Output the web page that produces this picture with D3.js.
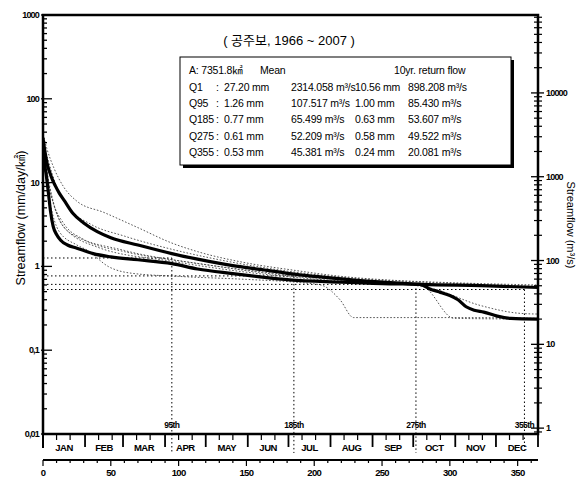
<!DOCTYPE html>
<html>
<head>
<meta charset="utf-8">
<script src="https://cdn.jsdelivr.net/npm/d3@7"></script>
<style>
  body { margin: 0; background: #fff; }
  svg { display: block; font-family: "Liberation Sans", Arial, "Noto Sans CJK KR", sans-serif; }
</style>
</head>
<body>
<div id="chart"></div>
<script>
// basin area (km2) -> converts mm/day to m3/s
const area = 7351.8;

// month axis
const months = ["JAN", "FEB", "MAR", "APR", "MAY", "JUN", "JUL", "AUG", "SEP", "OCT", "NOV", "DEC"];
const monthStart = [0, 31, 59, 90, 120, 151, 181, 212, 243, 273, 304, 334, 365];

// left axis ticks
const yTickValues = [0.01, 0.1, 1, 10, 100, 1000];
const yTickLabels = ["0,01", "0,1", "1", "10", "100", "1000"];
const rTickValues = [1, 10, 100, 1000, 10000];

// duration points (day, mean flow mm)
const durDays = [95, 185, 275, 355];
const durLabels = ["95th", "185th", "275th", "355th"];
const durMean = [1.26, 0.77, 0.61, 0.53];

// legend table
const legendQ = ["Q1", "Q95", "Q185", "Q275", "Q355"];
const meanMm = ["27.20", "1.26", "0.77", "0.61", "0.53"];
const meanCms = ["2314.058", "107.517", "65.499", "52.209", "45.381"];
const retMm = ["10.56", "1.00", "0.63", "0.58", "0.24"];
const retCms = ["898.208", "85.430", "53.607", "49.522", "20.081"];

// thick curves [day, mm/day]
const meanCurve = [[0, 34], [1, 26], [3, 17], [5, 13.2], [7, 10.8], [9, 9.2], [12, 7.5], [16, 6.0],
  [22, 4.3], [30, 3.3], [40, 2.6], [50, 2.2], [70, 1.8], [95, 1.42], [114, 1.22], [140, 1.02],
  [160, 0.92], [182, 0.82], [220, 0.71], [256, 0.64], [280, 0.61], [323, 0.59], [365, 0.56]];
const return10Curve = [[0, 30], [1, 18], [2.5, 12], [4, 7.5], [5.5, 4.6], [7.5, 3.0], [10, 2.4],
  [13, 2.05], [18, 1.8], [25, 1.65], [37, 1.42], [50, 1.3], [70, 1.2], [95, 1.08], [114, 0.93],
  [140, 0.82], [160, 0.75], [182, 0.69], [220, 0.65], [256, 0.62], [278, 0.61], [286, 0.53],
  [293, 0.49], [300, 0.45], [306, 0.40], [312, 0.33], [318, 0.30], [325, 0.285], [335, 0.255],
  [345, 0.24], [365, 0.235]];

// thin dotted curves (individual years)
const thinA = [[0, 38], [3, 25], [8, 15], [15, 9], [25, 6], [45, 4.4], [70, 2.9], [95, 1.9],
  [114, 1.5], [150, 1.1], [185, 0.9], [220, 0.76], [260, 0.68], [300, 0.64], [365, 0.6]];
const thinB = [[0, 32], [4, 18], [10, 9], [20, 4.8], [35, 3.2], [60, 2.3], [95, 1.6], [130, 1.2],
  [180, 0.88], [230, 0.72], [280, 0.65], [365, 0.58]];
const thinC = [[0, 25], [3, 12], [8, 5.5], [15, 3.3], [30, 2.1], [60, 1.5], [95, 1.2], [140, 0.95],
  [185, 0.78], [250, 0.66], [300, 0.6], [365, 0.56]];
const thinD = [[0, 22], [5, 6], [12, 2.6], [25, 1.8], [33, 1.55], [48, 1.0], [65, 0.83], [100, 0.76],
  [150, 0.7], [190, 0.64], [205, 0.6], [219, 0.4], [229, 0.245], [305, 0.245], [365, 0.24]];
const thinE = [[0, 28], [5, 9], [15, 3], [40, 1.7], [95, 1.15], [185, 0.74], [250, 0.63], [275, 0.6],
  [281, 0.57], [303, 0.24], [365, 0.235]];
const thinF = [[0, 30], [6, 7], [20, 2.5], [60, 1.55], [120, 1.05], [185, 0.76], [260, 0.63],
  [286, 0.55], [323, 0.34], [352, 0.275], [365, 0.27]];

const width = 581, height = 477;
const plotLeft = 43, plotRight = 538, plotTop = 15, plotBottom = 434;

const svg = d3.select("#chart").append("svg")
  .attr("width", width).attr("height", height);

const x = d3.scaleLinear().domain([0, 365]).range([plotLeft, plotRight]);
const y = d3.scaleLog().domain([0.01, 1000]).range([plotBottom, plotTop]);
const yR = d3.scaleLog().domain([0.01 * area / 86.4, 1000 * area / 86.4]).range([plotBottom, plotTop]);

svg.append("clipPath").attr("id", "plot")
  .append("rect").attr("x", plotLeft).attr("y", plotTop)
  .attr("width", plotRight - plotLeft).attr("height", plotBottom - plotTop);

const line = d3.line().x(d => x(d[0])).y(d => y(d[1])).curve(d3.curveMonotoneX);

// thin year curves
const g = svg.append("g").attr("clip-path", "url(#plot)");
[thinA, thinB, thinC, thinD, thinE, thinF].forEach(c => {
  g.append("path").attr("d", line(c))
    .attr("fill", "none").attr("stroke", "#444").attr("stroke-width", 0.9)
    .attr("stroke-dasharray", "1.6,1.8");
});

// reference dotted lines
durDays.forEach((d, i) => {
  g.append("line").attr("x1", plotLeft).attr("x2", x(d)).attr("y1", y(durMean[i])).attr("y2", y(durMean[i]))
    .attr("stroke", "#000").attr("stroke-width", 1).attr("stroke-dasharray", "1.5,2.5");
  svg.append("line").attr("x1", x(d)).attr("x2", x(d)).attr("y1", y(durMean[i])).attr("y2", 453)
    .attr("stroke", "#000").attr("stroke-width", 1).attr("stroke-dasharray", "1.5,2.5");
  svg.append("text").attr("x", x(d)).attr("y", 428).attr("text-anchor", "middle")
    .style("font-size", "8.5px").style("font-weight", "bold").style("letter-spacing", "-0.6px")
    .text(durLabels[i]);
});

// thick curves
[meanCurve, return10Curve].forEach(c => {
  g.append("path").attr("d", line(c))
    .attr("fill", "none").attr("stroke", "#000").attr("stroke-width", 3.2)
    .attr("stroke-linejoin", "round");
});

// frame
svg.append("rect").attr("x", plotLeft).attr("y", plotTop)
  .attr("width", plotRight - plotLeft).attr("height", plotBottom - plotTop)
  .attr("fill", "none").attr("stroke", "#000").attr("stroke-width", 2.5);

// left axis ticks
y.ticks().filter(v => !yTickValues.includes(v)).forEach(v => {
  svg.append("line").attr("x1", plotLeft).attr("x2", plotLeft + 4).attr("y1", y(v)).attr("y2", y(v))
    .attr("stroke", "#000").attr("stroke-width", 1.3);
});
yTickValues.forEach((v, i) => {
  svg.append("line").attr("x1", plotLeft - 2).attr("x2", plotLeft + 9).attr("y1", y(v)).attr("y2", y(v))
    .attr("stroke", "#000").attr("stroke-width", 1.3);
  svg.append("text").attr("x", plotLeft - 4).attr("y", y(v) + 3).attr("text-anchor", "end")
    .style("font-size", "9px").style("font-weight", "bold").style("letter-spacing", "-0.8px")
    .text(yTickLabels[i]);
});

// right axis ticks (m3/s)
yR.ticks().filter(v => !rTickValues.includes(v)).forEach(v => {
  svg.append("line").attr("x1", plotRight - 4).attr("x2", plotRight + 4).attr("y1", yR(v)).attr("y2", yR(v))
    .attr("stroke", "#000").attr("stroke-width", 1.2);
});
rTickValues.forEach(v => {
  svg.append("line").attr("x1", plotRight - 7).attr("x2", plotRight + 6).attr("y1", yR(v)).attr("y2", yR(v))
    .attr("stroke", "#000").attr("stroke-width", 1.3);
  svg.append("text").attr("x", plotRight + 8).attr("y", yR(v) + 3)
    .style("font-size", "9px").style("font-weight", "bold").style("letter-spacing", "-0.8px").text(v);
});

// month axis
svg.append("line").attr("x1", plotLeft).attr("x2", plotLeft).attr("y1", plotBottom).attr("y2", 448)
  .attr("stroke", "#000").attr("stroke-width", 2);
monthStart.forEach((d, i) => {
  svg.append("line").attr("x1", x(d)).attr("x2", x(d)).attr("y1", plotBottom).attr("y2", 447)
    .attr("stroke", "#000").attr("stroke-width", 1.8);
  if (i < 12) {
    [10, 20].forEach(o => {
      svg.append("line").attr("x1", x(d + o)).attr("x2", x(d + o)).attr("y1", plotBottom).attr("y2", 440)
        .attr("stroke", "#000").attr("stroke-width", 1.2);
    });
    svg.append("text").attr("x", x((d + monthStart[i + 1]) / 2)).attr("y", 451).attr("text-anchor", "middle")
      .style("font-size", "9.5px").style("font-weight", "bold").style("letter-spacing", "-0.5px")
      .text(months[i]);
  }
});

// day axis
const dayAxis = svg.append("g").attr("transform", "translate(0,460)");
dayAxis.append("line").attr("x1", plotLeft).attr("x2", plotRight).attr("stroke", "#000").attr("stroke-width", 2);
d3.range(0, 366, 10).forEach(d => {
  dayAxis.append("line").attr("x1", x(d)).attr("x2", x(d)).attr("y1", 0).attr("y2", d % 50 === 0 ? 6 : 3)
    .attr("stroke", "#000").attr("stroke-width", 1.2);
});
d3.range(0, 366, 50).forEach(d => {
  dayAxis.append("text").attr("x", x(d)).attr("y", 16).attr("text-anchor", "middle")
    .style("font-size", "9.5px").style("font-weight", "bold").style("letter-spacing", "-0.7px").text(d);
});

// axis titles
svg.append("text").attr("transform", "translate(25,218) rotate(-90)").attr("text-anchor", "middle")
  .style("font-size", "12.5px").text("Streamflow (mm/day/㎢)");
svg.append("text").attr("transform", "translate(567,225) rotate(90)").attr("text-anchor", "middle")
  .style("font-size", "11px").text("Streamflow (m³/s)");

// title
svg.append("text").attr("x", 289).attr("y", 45).attr("text-anchor", "middle")
  .style("font-size", "13px").text("( 공주보, 1966 ~ 2007 )");

// legend box
const box = { x: 180, y: 57, w: 331, h: 108 };
svg.append("rect").attr("x", box.x + 3).attr("y", box.y + 3).attr("width", box.w).attr("height", box.h)
  .attr("fill", "#000");
svg.append("rect").attr("x", box.x).attr("y", box.y).attr("width", box.w).attr("height", box.h)
  .attr("fill", "#fff").attr("stroke", "#000").attr("stroke-width", 1);

const lg = svg.append("g").style("font-size", "10.5px").style("letter-spacing", "-0.2px");
lg.append("text").attr("x", 189).attr("y", 74).text("A: 7351.8㎢");
lg.append("text").attr("x", 260).attr("y", 74).text("Mean");
lg.append("text").attr("x", 394).attr("y", 74).text("10yr. return flow");
legendQ.forEach((q, i) => {
  const yy = 91 + i * 16.2;
  lg.append("text").attr("x", 189).attr("y", yy).text(q);
  lg.append("text").attr("x", 216).attr("y", yy).text(":");
  lg.append("text").attr("x", 224).attr("y", yy).text(meanMm[i] + " mm");
  lg.append("text").attr("x", 291).attr("y", yy).text(meanCms[i] + " m³/s");
  lg.append("text").attr("x", 355).attr("y", yy).text(retMm[i] + " mm");
  lg.append("text").attr("x", 408).attr("y", yy).text(retCms[i] + " m³/s");
});
</script>
</body>
</html>
